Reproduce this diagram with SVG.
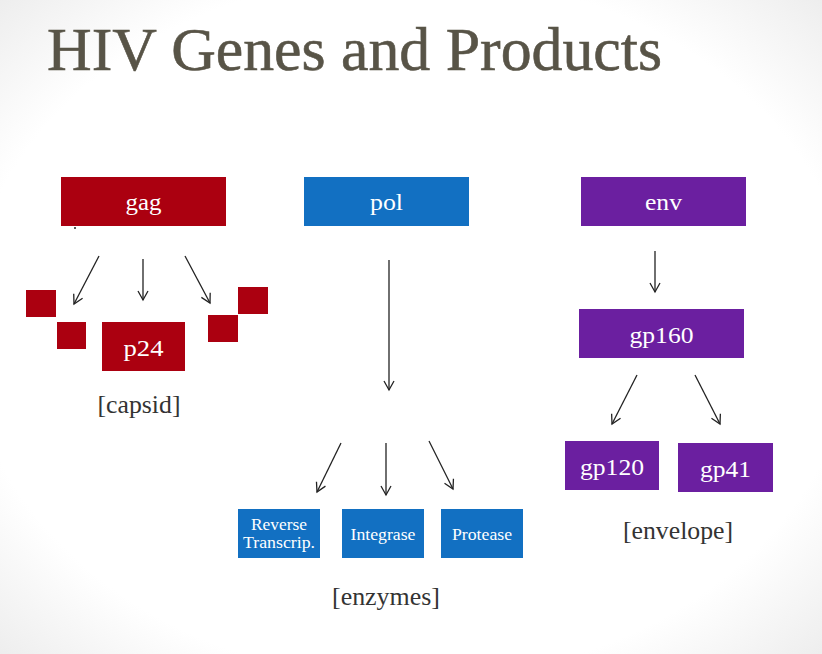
<svg xmlns="http://www.w3.org/2000/svg" width="822" height="654" viewBox="0 0 822 654">
  <defs>
    <radialGradient id="bg" cx="50%" cy="50%" r="75%">
      <stop offset="0.72" stop-color="#ffffff"/>
      <stop offset="1" stop-color="#e9e9e9"/>
    </radialGradient>
    <marker id="head" viewBox="0 0 12 12" refX="10" refY="6" markerWidth="12" markerHeight="12" markerUnits="userSpaceOnUse" orient="auto">
      <polyline points="1,1 10,6 1,11" fill="none" stroke="#222" stroke-width="1.3"/>
    </marker>
  </defs>
  <style>
    .title { font-family: "Liberation Serif", "DejaVu Serif", serif; font-size: 62px; fill: #585447; stroke: #585447; stroke-width: 0.6; }
    .gag { fill: #ab0010; }
    .pol { fill: #1270c2; }
    .env { fill: #6b1fa0; }
    .lbl { font-family: "Liberation Serif", "DejaVu Serif", serif; font-size: 24px; fill: #ffffff; text-anchor: middle; }
    .small { font-family: "Liberation Serif", "DejaVu Serif", serif; font-size: 16px; fill: #ffffff; text-anchor: middle; }
    .note { font-family: "Liberation Serif", "DejaVu Serif", serif; font-size: 25px; fill: #333333; text-anchor: middle; }
    .conn line { stroke: #222; stroke-width: 1.3; marker-end: url(#head); }
  </style>

  <rect width="822" height="654" fill="url(#bg)"/>

  <text class="title" x="47" y="70" textLength="615" lengthAdjust="spacingAndGlyphs">HIV Genes and Products</text>

  <!-- gag branch -->
  <g id="gag">
    <rect class="gag" x="61" y="177" width="165" height="49"/>
    <text class="lbl" x="143.5" y="210" textLength="36" lengthAdjust="spacingAndGlyphs">gag</text>
  </g>
  <circle cx="75" cy="228" r="1" fill="#222"/>
  <g id="gag-fragments">
    <rect class="gag" x="26" y="290" width="30" height="27"/>
    <rect class="gag" x="57" y="322" width="29" height="27"/>
    <rect class="gag" x="208" y="315" width="30" height="27"/>
    <rect class="gag" x="238" y="287" width="30" height="27"/>
  </g>
  <g id="p24">
    <rect class="gag" x="102" y="322" width="83" height="49"/>
    <text class="lbl" x="143.5" y="356" textLength="40" lengthAdjust="spacingAndGlyphs">p24</text>
  </g>
  <text id="capsid" class="note" x="139" y="413" textLength="83" lengthAdjust="spacingAndGlyphs">[capsid]</text>

  <!-- pol branch -->
  <g id="pol">
    <rect class="pol" x="304" y="177" width="165" height="49"/>
    <text class="lbl" x="386.5" y="210" textLength="33" lengthAdjust="spacingAndGlyphs">pol</text>
  </g>
  <g id="rt">
    <rect class="pol" x="238" y="509" width="82" height="49"/>
    <text class="small" x="279" y="530" textLength="56" lengthAdjust="spacingAndGlyphs">Reverse</text>
    <text class="small" x="279" y="548" textLength="72" lengthAdjust="spacingAndGlyphs">Transcrip.</text>
  </g>
  <g id="integrase">
    <rect class="pol" x="342" y="509" width="82" height="49"/>
    <text class="small" x="383" y="540" textLength="65" lengthAdjust="spacingAndGlyphs">Integrase</text>
  </g>
  <g id="protease">
    <rect class="pol" x="441" y="509" width="82" height="49"/>
    <text class="small" x="482" y="540" textLength="60" lengthAdjust="spacingAndGlyphs">Protease</text>
  </g>
  <text id="enzymes" class="note" x="386" y="605" textLength="108" lengthAdjust="spacingAndGlyphs">[enzymes]</text>

  <!-- env branch -->
  <g id="env">
    <rect class="env" x="581" y="177" width="165" height="49"/>
    <text class="lbl" x="663.5" y="210" textLength="37" lengthAdjust="spacingAndGlyphs">env</text>
  </g>
  <g id="gp160">
    <rect class="env" x="579" y="309" width="165" height="49"/>
    <text class="lbl" x="661.5" y="343" textLength="64" lengthAdjust="spacingAndGlyphs">gp160</text>
  </g>
  <g id="gp120">
    <rect class="env" x="565" y="441" width="94" height="49"/>
    <text class="lbl" x="612" y="475" textLength="64" lengthAdjust="spacingAndGlyphs">gp120</text>
  </g>
  <g id="gp41">
    <rect class="env" x="678" y="443" width="95" height="49"/>
    <text class="lbl" x="725.5" y="477" textLength="51" lengthAdjust="spacingAndGlyphs">gp41</text>
  </g>
  <text id="envelope" class="note" x="678" y="539" textLength="110" lengthAdjust="spacingAndGlyphs">[envelope]</text>

  <!-- connectors -->
  <g class="conn">
    <line x1="99" y1="256" x2="74" y2="304"/>
    <line x1="143" y1="259" x2="143" y2="300"/>
    <line x1="185" y1="256" x2="210" y2="303"/>
    <line x1="389" y1="260" x2="389" y2="390"/>
    <line x1="341" y1="443" x2="317" y2="492"/>
    <line x1="386" y1="443" x2="386" y2="495"/>
    <line x1="429" y1="441" x2="453" y2="489"/>
    <line x1="655" y1="251" x2="655" y2="292"/>
    <line x1="637" y1="375" x2="612" y2="424"/>
    <line x1="695" y1="375" x2="720" y2="424"/>
  </g>
</svg>
